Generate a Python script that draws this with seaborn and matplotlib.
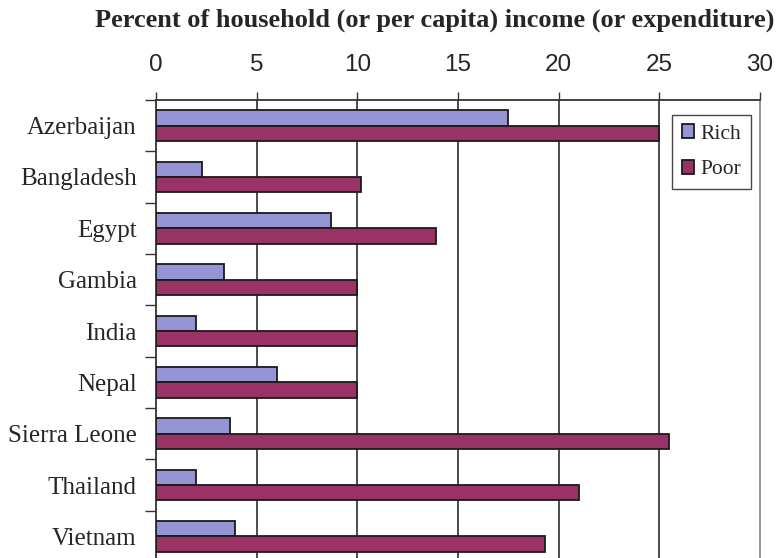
import numpy as np
import pandas as pd
import matplotlib
matplotlib.use("Agg")
import matplotlib.pyplot as plt
import seaborn as sns

# Data
countries = ["Azerbaijan", "Bangladesh", "Egypt", "Gambia", "India",
             "Nepal", "Sierra Leone", "Thailand", "Vietnam"]
rich = [17.5, 2.3, 8.7, 3.4, 2.0, 6.0, 3.7, 2.0, 3.9]
poor = [25.0, 10.2, 13.9, 10.0, 10.0, 10.0, 25.5, 21.0, 19.3]
groups = ["Rich", "Poor"]
x_ticks = [0, 5, 10, 15, 20, 25, 30]
title = "Percent of household (or per capita) income (or expenditure)"

df = pd.DataFrame({
    "country": countries * 2,
    "group": ["Rich"] * len(countries) + ["Poor"] * len(countries),
    "value": rich + poor,
})

sns.set_style("white")
serif = ["Liberation Serif", "DejaVu Serif"]
sans = ["Liberation Sans", "DejaVu Sans"]

fig = plt.figure(figsize=(7.78, 5.58), dpi=100)
ax = fig.add_axes([156 / 778, 1 - 562 / 558, 604 / 778, 462 / 558])

sns.barplot(data=df, y="country", x="value", hue="group", hue_order=groups,
            order=countries, orient="h", width=0.6, dodge=True,
            palette={"Rich": "#9595D5", "Poor": "#993366"},
            edgecolor="#1a1a1a", linewidth=1.3, saturation=1, ax=ax, zorder=3)

ax.set_xlim(0, 30)
ax.set_ylim(len(countries) - 0.5, -0.5)
ax.set_xticks(x_ticks)
ax.xaxis.tick_top()
ax.tick_params(axis="x", which="major", direction="out", length=6, width=1,
               color="#333333", pad=11, labelsize=17.5)
for lab in ax.get_xticklabels():
    lab.set_fontfamily(sans)

ax.set_yticks(np.arange(-0.5, len(countries) + 0.5, 1), minor=True)
ax.tick_params(axis="y", which="minor", direction="out", length=8, width=1,
               color="#333333", left=True)
ax.tick_params(axis="y", which="major", length=0, pad=14, labelsize=18)
for lab in ax.get_yticklabels():
    lab.set_fontfamily(serif)

ax.set_xlabel("")
ax.set_ylabel("")

for v in x_ticks[1:-1]:
    ax.axvline(v, color="#1a1a1a", lw=1.1, zorder=1)

ax.spines["bottom"].set_visible(False)
ax.spines["top"].set_color("#333333")
ax.spines["left"].set_color("#333333")
ax.spines["right"].set_color("#8c8c8c")
for s in ["top", "left", "right"]:
    ax.spines[s].set_linewidth(1.3)

leg = ax.legend(loc="upper left", bbox_to_anchor=(0.854, 0.968),
                prop={"family": serif, "size": 15.5}, frameon=True,
                fancybox=False, borderpad=0.45, handlelength=0.6,
                handleheight=0.6, handletextpad=0.3, labelspacing=0.75,
                borderaxespad=0)
leg.get_frame().set_edgecolor("#1a1a1a")
leg.get_frame().set_linewidth(1.0)
for h in leg.legend_handles:
    h.set_edgecolor("#1a1a1a")

fig.text(435 / 778, 1 - 20 / 558, title, ha="center", va="center",
         fontsize=19, fontweight="bold", family=serif)

fig.savefig("out.png", dpi=100)
